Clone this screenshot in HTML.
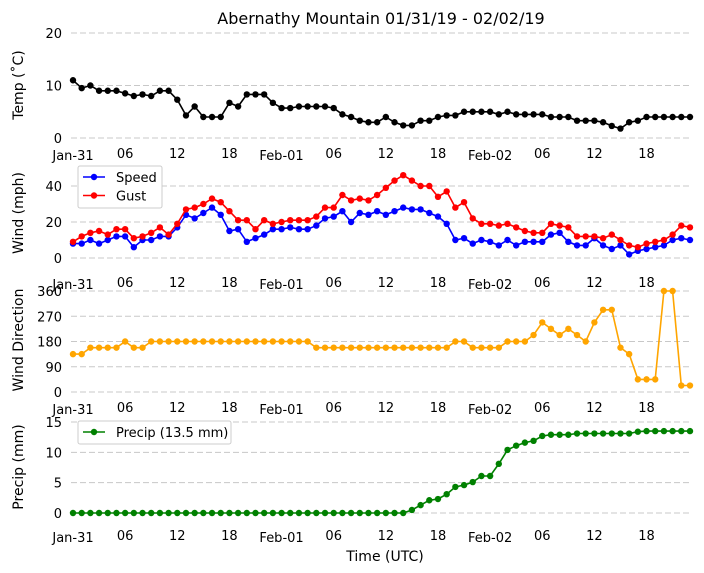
<!DOCTYPE html>
<html><head><meta charset="utf-8"><style>
html,body{margin:0;padding:0;background:#fff;}
svg{display:block;font-family:"DejaVu Sans","Liberation Sans",sans-serif;}
</style></head><body>
<svg id="chart" width="704" height="573" viewBox="0 0 704 573" xmlns="http://www.w3.org/2000/svg">
<text x="381" y="24" font-size="16" text-anchor="middle">Abernathy Mountain 01/31/19 - 02/02/19</text>
<text x="385" y="561" font-size="14" text-anchor="middle">Time (UTC)</text>
</svg>
<script>
const hours = Array.from({length:72},(_,i)=>i);
const tempVals = [11,9.5,10,9,9,9,8.5,8,8.3,8,9,9,7.3,4.3,6,4,4,4,6.7,6,8.3,8.3,8.3,6.7,5.7,5.7,6,6,6,6,5.7,4.5,4,3.3,3,3,4,3,2.4,2.4,3.3,3.3,4,4.3,4.3,5,5,5,5,4.5,5,4.5,4.5,4.5,4.5,4,4,4,3.3,3.3,3.3,3,2.3,1.8,3,3.3,4,4,4,4,4,4];
const speedVals = [8,8,10,8,10,12,12,6,10,10,12,12,17,24,22,25,28,24,15,16,9,11,13,16,16,17,16,16,18,22,23,26,20,25,24,26,24,26,28,27,27,25,23,19,10,11,8,10,9,7,10,7,9,9,9,13,14,9,7,7,11,7,5,7,2,4,5,6,7,10,11,10];
const gustVals = [9,12,14,15,13,16,16,11,12,14,17,13,19,27,28,30,33,31,26,21,21,16,21,19,20,21,21,21,23,28,28,35,32,33,32,35,39,43,46,43,40,40,34,37,28,31,22,19,19,18,19,17,15,14,14,19,18,17,12,12,12,11,13,10,7,6,8,9,10,13,18,17];
const dirVals = [135,135,158,158,158,158,180,158,158,180,180,180,180,180,180,180,180,180,180,180,180,180,180,180,180,180,180,180,158,158,158,158,158,158,158,158,158,158,158,158,158,158,158,158,180,180,158,158,158,158,180,180,180,203,248,225,203,225,203,180,248,293,293,158,135,45,45,45,360,360,23,23];
const precipVals = [0,0,0,0,0,0,0,0,0,0,0,0,0,0,0,0,0,0,0,0,0,0,0,0,0,0,0,0,0,0,0,0,0,0,0,0,0,0,0,0.5,1.3,2.1,2.3,3.1,4.3,4.6,5.1,6.1,6.1,8.1,10.4,11.1,11.6,11.9,12.7,12.9,12.9,12.9,13.1,13.1,13.1,13.1,13.1,13.1,13.1,13.4,13.5,13.5,13.5,13.5,13.5,13.5];
const xTickHours = [0,6,12,18,24,30,36,42,48,54,60,66];
const xTickLabels = ["Jan-31","06","12","18","Feb-01","06","12","18","Feb-02","06","12","18"];
const tempTicks = [0,10,20];
const windTicks = [0,20,40];
const dirTicks = [0,90,180,270,360];
const precipTicks = [0,5,10,15];

const NS="http://www.w3.org/2000/svg";
const svg=document.getElementById('chart');
const x0=73, pxPerHour=8.69;
function xScale(h){return x0+h*pxPerHour;}
function mk(tag,attrs,parent){const e=document.createElementNS(NS,tag);for(const k in attrs)e.setAttribute(k,attrs[k]);(parent||svg).appendChild(e);return e;}

function panel(name,vMin,vMax,yBot,yTop,ticks,ylabel,ylabelY,tickRowY){
  const g=mk('g',{});
  
  
  const ys=v=>yBot-(v-vMin)/(vMax-vMin)*(yBot-yTop);
  ticks.forEach(t=>{
    const l=mk('line',{x1:71,x2:690,y1:ys(t),y2:ys(t),stroke:'#c8c8c8','stroke-dasharray':'6,3','stroke-width':1},g);
    
    
    const tx=mk('text',{x:62,y:ys(t)+5,'font-size':13,'text-anchor':'end'},g);
    tx.textContent=t;
    
    
  });
  const yl=mk('text',{x:0,y:0,'font-size':14,'text-anchor':'middle',transform:`translate(23,${ylabelY}) rotate(-90)`},g);
  yl.textContent=ylabel;
  
  
  xTickHours.forEach((h,i)=>{
    const big=xTickLabels[i].length>2;
    const tx=mk('text',{x:xScale(h),y:tickRowY+(big?2:0),'font-size':13,'text-anchor':'middle'},g);
    tx.textContent=xTickLabels[i];
    
    
  });
  return {g,ys};
}
function series(p,vals,color,name){
  const pts=vals.map((v,i)=>xScale(hours[i]).toFixed(1)+','+p.ys(v).toFixed(1)).join(' ');
  const pl=mk('polyline',{points:pts,fill:'none',stroke:color,'stroke-width':1.6},p.g);
  
  
  vals.forEach((v,i)=>{
    const c=mk('circle',{cx:xScale(hours[i]),cy:p.ys(v),r:3.2,fill:color},p.g);
    
    
  });
}
function legend(entries,x,y,w,h){
  const g=mk('g',{});
  
  
  mk('rect',{x:x,y:y,width:w,height:h,fill:'#fff',stroke:'#ccc',rx:2},g);
  entries.forEach((e,i)=>{
    const yy=y+11+i*18.5;
    mk('line',{x1:x+5,x2:x+27,y1:yy,y2:yy,stroke:e[1],'stroke-width':1.6},g);
    mk('circle',{cx:x+16,cy:yy,r:3.2,fill:e[1]},g);
    const t=mk('text',{x:x+38,y:yy+5,'font-size':13},g);
    t.textContent=e[0];
    
    
  });
}
const pT=panel('temp',0,20,138,33,tempTicks,'Temp (˚C)',85,158);
series(pT,tempVals,'#000','temp');
const pW=panel('wind',0,40,258,186,windTicks,'Wind (mph)',213,287);
series(pW,speedVals,'#0000ff','speed');
series(pW,gustVals,'#ff0000','gust');
legend([['Speed','#0000ff'],['Gust','#ff0000']],78,166,84,42);
const pD=panel('direction',0,360,392,291,dirTicks,'Wind Direction',340,412);
series(pD,dirVals,'#ffa500','direction');
const pP=panel('precip',0,15,513,422,precipTicks,'Precip (mm)',467,540);
series(pP,precipVals,'#008000','precip');
legend([['Precip (13.5 mm)','#008000']],78,421,153,23);
</script>
</body></html>
